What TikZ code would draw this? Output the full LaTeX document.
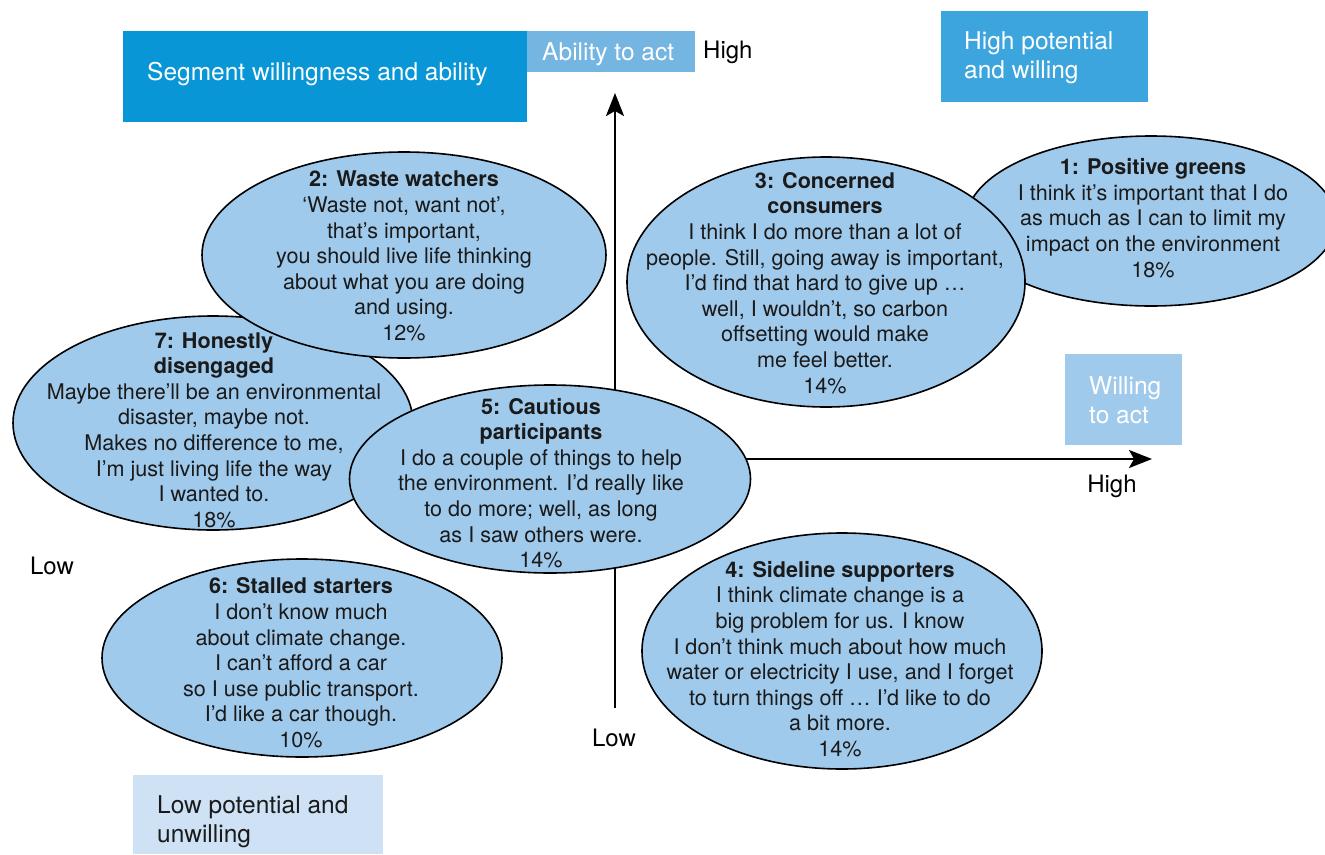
\documentclass[tikz,border=0pt]{standalone}
\usepackage{fontspec}
\setmainfont{TeX Gyre Heros}
\usetikzlibrary{shapes.geometric,arrows.meta}
\definecolor{segblue}{HTML}{0896D6}
\definecolor{ablue}{HTML}{75B5E2}
\definecolor{hpblue}{HTML}{3CA5DD}
\definecolor{wblue}{HTML}{A0CAEC}
\definecolor{ellblue}{HTML}{A0CAEC}
\definecolor{lpblue}{HTML}{CFE2F5}
\definecolor{txt}{HTML}{1A1A1A}
\begin{document}
\begin{tikzpicture}[x=1pt,y=-1pt,
  seg/.style={shape=ellipse, draw=black, line width=1.6pt, fill=ellblue, inner sep=0pt},
  quote/.style={align=center, font=\fontsize{21.6}{25.6}\selectfont, text=txt, inner sep=0pt},
  box/.style={anchor=north west, inner sep=0pt, draw=none},
  boxtext/.style={anchor=west, align=left, inner sep=0pt, font=\fontsize{24.5}{29}\selectfont, text=white},
  axlabel/.style={inner sep=0pt, font=\fontsize{24}{28}\selectfont, text=black},
  axis/.style={line width=2.2pt, -{Stealth[length=23pt,width=18pt,inset=5pt]}}
]
\useasboundingbox (0,0) rectangle (1325,854);

% boxes
\node[box, fill=segblue, minimum width=404pt, minimum height=91pt] (segbox) at (123,31) {};
\node[boxtext] (segtxt) at (147,74) {Segment willingness and ability};
\node[box, fill=ablue, minimum width=168pt, minimum height=41pt] (abox) at (527,31) {};
\node[boxtext] (atxt) at (542,54) {Ability to act};
\node[axlabel, anchor=west] (hightop) at (703,52) {High};
\node[box, fill=hpblue, minimum width=207pt, minimum height=91pt] (hpbox) at (941,11) {};
\node[boxtext] (hptxt) at (964,57.5) {High potential\\and willing};
\node[box, fill=wblue, minimum width=117pt, minimum height=91pt] (wbox) at (1065,354) {};
\node[boxtext] (wtxt) at (1089,400) {Willing\\to act};
\node[box, fill=lpblue, minimum width=250pt, minimum height=79pt] (lpbox) at (133,775) {};
\node[boxtext, text=txt] (lptxt) at (157,822) {Low potential and\\unwilling};

% axes
\coordinate (ybot) at (615,708);
\coordinate (ytop) at (615,93);
\coordinate (xleft) at (380,459);
\coordinate (xright) at (1152,459);
\draw[axis] (ybot) -- (ytop);
\draw[axis] (xleft) -- (xright);
\node[axlabel] (highright) at (1112,486) {High};
\node[axlabel] (lowleft) at (52,566) {Low};
\node[axlabel] (lowbot) at (614,738) {Low};

% segments
\node[seg, minimum width=400pt, minimum height=214pt] (e7) at (213,423) {};
\node[quote] (t7) at (214,430) {\textbf{7: Honestly}\\\textbf{disengaged}\\Maybe there’ll be an environmental\\disaster, maybe not.\\Makes no difference to me,\\I’m just living life the way\\I wanted to.\\18\%};

\node[seg, minimum width=400pt, minimum height=198pt] (e6) at (302,658) {};
\node[quote] (t6) at (301,663) {\textbf{6: Stalled starters}\\I don’t know much\\about climate change.\\I can’t afford a car\\so I use public transport.\\I’d like a car though.\\10\%};

\node[seg, minimum width=404pt, minimum height=206pt] (e2) at (404,255) {};
\node[quote] (t2) at (404,256) {\textbf{2: Waste watchers}\\‘Waste not, want not’,\\that’s important,\\you should live life thinking\\about what you are doing\\and using.\\12\%};

\node[seg, minimum width=370pt, minimum height=170pt] (e1) at (1151,221) {};
\node[quote] (t1) at (1153,218) {\textbf{1: Positive greens}\\I think it’s important that I do\\as much as I can to limit my\\impact on the environment\\18\%};

\node[seg, minimum width=398pt, minimum height=250pt] (e3) at (826,282) {};
\node[quote] (t3) at (825,283) {\textbf{3: Concerned}\\\textbf{consumers}\\I think I do more than a lot of\\people. Still, going away is important,\\I’d find that hard to give up …\\well, I wouldn’t, so carbon\\offsetting would make\\me feel better.\\14\%};

\node[seg, minimum width=400pt, minimum height=236pt] (e4) at (842,651) {};
\node[quote] (t4) at (840,659) {\textbf{4: Sideline supporters}\\I think climate change is a\\big problem for us. I know\\I don’t think much about how much\\water or electricity I use, and I forget\\to turn things off … I’d like to do\\a bit more.\\14\%};

\node[seg, minimum width=401pt, minimum height=188pt] (e5) at (550,479) {};
\node[quote] (t5) at (541,483) {\textbf{5: Cautious}\\\textbf{participants}\\I do a couple of things to help\\the environment. I’d really like\\to do more; well, as long\\as I saw others were.\\14\%};
\end{tikzpicture}
\end{document}
